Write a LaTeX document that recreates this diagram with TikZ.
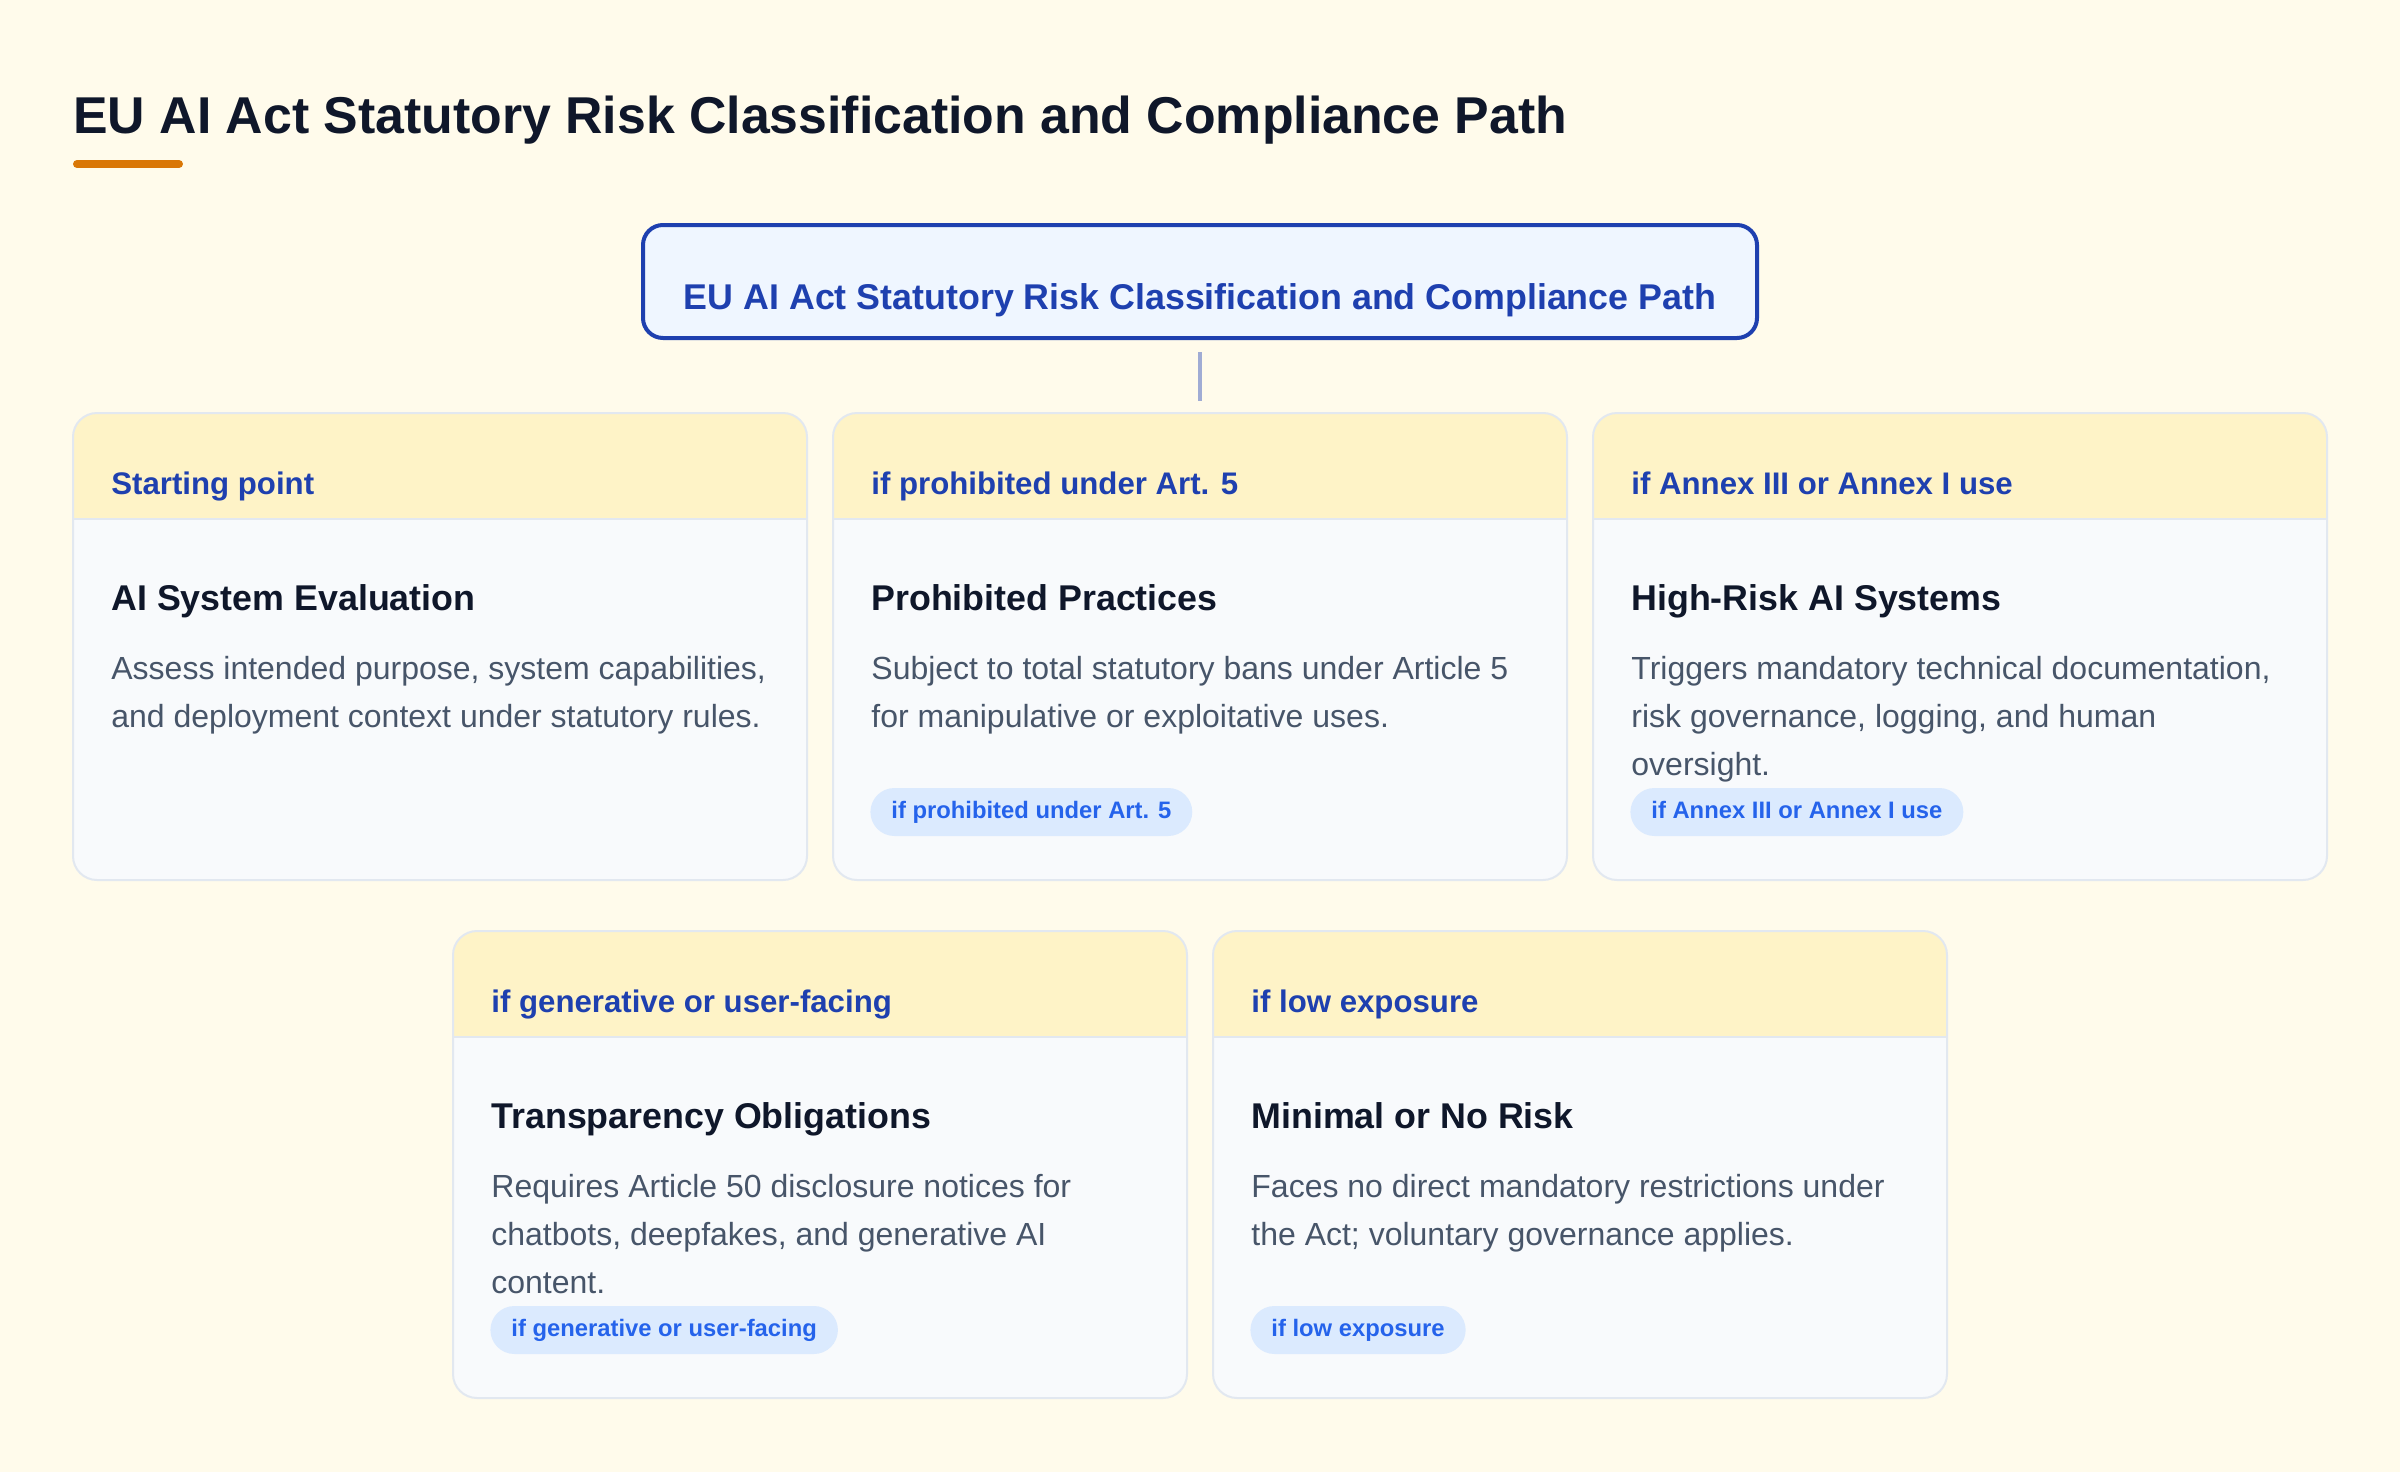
\documentclass[tikz,border=0pt]{standalone}
\usepackage{fontspec}
\setmainfont{Liberation Sans}
\definecolor{bg}{HTML}{FFFBEB}
\definecolor{ink}{HTML}{0F172A}
\definecolor{accent}{HTML}{D97706}
\definecolor{rootline}{HTML}{1E40AF}
\definecolor{rootfill}{HTML}{EFF6FF}
\definecolor{conn}{HTML}{A0ACD4}
\definecolor{cardline}{HTML}{E2E8F0}
\definecolor{cardfill}{HTML}{F8FAFC}
\definecolor{hdrfill}{HTML}{FEF3C7}
\definecolor{hdrblue}{HTML}{1E40AF}
\definecolor{slate}{HTML}{475569}
\definecolor{pillfill}{HTML}{DBEAFE}
\definecolor{pilltext}{HTML}{2563EB}
\tikzset{
  card/.style={draw=cardline, line width=1pt, fill=cardfill, rounded corners=12pt,
    minimum width=367pt, minimum height=233.5pt, inner sep=0pt, outer sep=0pt,
    path picture={
      \fill[hdrfill, sharp corners] (path picture bounding box.north west) rectangle ([yshift=-53pt]path picture bounding box.north east);
      \draw[cardline, line width=1pt, sharp corners] ([yshift=-53pt]path picture bounding box.north west) -- ([yshift=-53pt]path picture bounding box.north east);
    }},
  rootbox/.style={draw=rootline, line width=2pt, fill=rootfill, rounded corners=10pt,
    minimum width=557pt, minimum height=56.5pt, inner sep=0pt, outer sep=0pt},
  roottxt/.style={anchor=base, inner sep=0pt, text=rootline, font=\fontsize{17.9pt}{21pt}\selectfont\bfseries},
  maintitle/.style={anchor=base west, inner sep=0pt, text=ink, font=\fontsize{25.9pt}{30pt}\selectfont\bfseries},
  hdrtxt/.style={anchor=base west, inner sep=0pt, text=hdrblue, font=\fontsize{15.6pt}{18pt}\selectfont\bfseries},
  ttl/.style={anchor=base west, inner sep=0pt, text=ink, font=\fontsize{17.9pt}{21pt}\selectfont\bfseries},
  desc/.style={anchor=base west, inner sep=0pt, text=slate, font=\fontsize{16pt}{24pt}\selectfont},
  pill/.style={anchor=west, fill=pillfill, text=pilltext, rounded corners=12pt,
    minimum height=24pt, inner xsep=10.5pt, inner ysep=0pt, text height=8.7pt, text depth=2.5pt,
    font=\fontsize{11.9pt}{14pt}\selectfont\bfseries},
  link/.style={draw=conn, line width=2pt, shorten <=7pt, shorten >=6pt},
}
\begin{document}
\begin{tikzpicture}[x=0.5pt, y=-0.5pt]
\useasboundingbox (0,0) rectangle (2400,1472);
\fill[bg] (0,0) rectangle (2400,1472);

% page title
\node[maintitle] (title) at (73,133) {EU AI Act Statutory Risk Classification and Compliance Path};
\coordinate (ulA) at (77,164);
\coordinate (ulB) at (179,164);
\draw[accent, line width=4pt, line cap=round] (ulA) -- (ulB);

% root box
\node[rootbox] (root) at (1200,281.5) {};
\node[roottxt] (rootlabel) at (1200,309) {EU AI Act Statutory Risk Classification and Compliance Path};

% row 1 cards
\node[card] (c1) at (440,646.5) {};
\node[card] (c2) at (1200,646.5) {};
\node[card] (c3) at (1960,646.5) {};
% row 2 cards
\node[card] (c4) at (820,1164.5) {};
\node[card] (c5) at (1580,1164.5) {};

\draw[link] (root.south) -- (c2.north);

% card 1
\node[hdrtxt] (c1h) at (111,494) {Starting point};
\node[ttl] (c1t) at (111,610) {AI System Evaluation};
\node[desc] (c1d1) at (111,679) {Assess intended purpose, system capabilities,};
\node[desc] (c1d2) at (111,727) {and deployment context under statutory rules.};

% card 2
\node[hdrtxt] (c2h) at (871,494) {if prohibited under Art. 5};
\node[ttl] (c2t) at (871,610) {Prohibited Practices};
\node[desc] (c2d1) at (871,679) {Subject to total statutory bans under Article 5};
\node[desc] (c2d2) at (871,727) {for manipulative or exploitative uses.};
\node[pill] (c2p) at (870,812) {if prohibited under Art. 5};

% card 3
\node[hdrtxt] (c3h) at (1631,494) {if Annex III or Annex I use};
\node[ttl] (c3t) at (1631,610) {High-Risk AI Systems};
\node[desc] (c3d1) at (1631,679) {Triggers mandatory technical documentation,};
\node[desc] (c3d2) at (1631,727) {risk governance, logging, and human};
\node[desc] (c3d3) at (1631,775) {oversight.};
\node[pill] (c3p) at (1630,812) {if Annex III or Annex I use};

% card 4
\node[hdrtxt] (c4h) at (491,1012) {if generative or user-facing};
\node[ttl] (c4t) at (491,1128) {Transparency Obligations};
\node[desc] (c4d1) at (491,1197) {Requires Article 50 disclosure notices for};
\node[desc] (c4d2) at (491,1245) {chatbots, deepfakes, and generative AI};
\node[desc] (c4d3) at (491,1293) {content.};
\node[pill] (c4p) at (490,1330) {if generative or user-facing};

% card 5
\node[hdrtxt] (c5h) at (1251,1012) {if low exposure};
\node[ttl] (c5t) at (1251,1128) {Minimal or No Risk};
\node[desc] (c5d1) at (1251,1197) {Faces no direct mandatory restrictions under};
\node[desc] (c5d2) at (1251,1245) {the Act; voluntary governance applies.};
\node[pill] (c5p) at (1250,1330) {if low exposure};
\end{tikzpicture}
\end{document}
